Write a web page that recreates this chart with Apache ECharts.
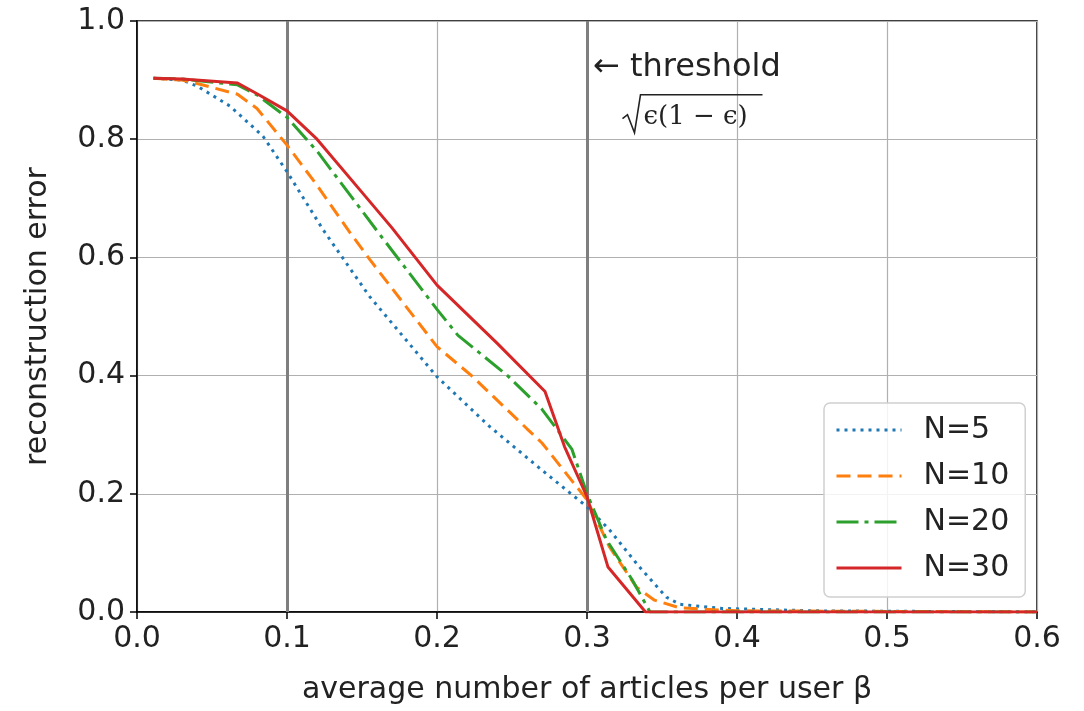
<!DOCTYPE html>
<html>
<head>
<meta charset="utf-8">
<script src="https://cdn.jsdelivr.net/npm/echarts@6/dist/echarts.min.js"></script>
<style>
html,body{margin:0;padding:0;background:#fff;}
#c{width:1084px;height:711px;}
</style>
</head>
<body>
<div id="c"></div>
<script>
// ---- data ----
const xTicks = [0.0, 0.1, 0.2, 0.3, 0.4, 0.5, 0.6];
const yTicks = [0.0, 0.2, 0.4, 0.6, 0.8, 1.0];
const seriesNames = ['N=5', 'N=10', 'N=20', 'N=30'];
const n5 = [[0.011,0.903],[0.03,0.900],[0.04,0.890],[0.062,0.856],[0.084,0.805],[0.1,0.745],[0.124,0.647],[0.155,0.534],[0.2,0.398],[0.235,0.314],[0.27,0.240],[0.3,0.178],[0.315,0.139],[0.335,0.076],[0.353,0.025],[0.362,0.013],[0.39,0.006],[0.45,0.002],[0.6,0.0]];
const n10 = [[0.011,0.903],[0.03,0.900],[0.042,0.893],[0.067,0.876],[0.08,0.852],[0.1,0.790],[0.12,0.722],[0.142,0.642],[0.155,0.597],[0.2,0.449],[0.223,0.400],[0.26,0.310],[0.27,0.286],[0.3,0.190],[0.315,0.110],[0.333,0.042],[0.345,0.020],[0.362,0.007],[0.4,0.002],[0.6,0.0]];
const n20 = [[0.011,0.903],[0.03,0.902],[0.067,0.892],[0.08,0.875],[0.1,0.837],[0.12,0.780],[0.16,0.645],[0.2,0.512],[0.214,0.468],[0.247,0.400],[0.27,0.343],[0.29,0.275],[0.3,0.200],[0.313,0.122],[0.33,0.055],[0.342,0.0],[0.6,0.0]];
const n30 = [[0.011,0.903],[0.03,0.902],[0.067,0.895],[0.08,0.877],[0.1,0.848],[0.12,0.800],[0.15,0.710],[0.17,0.650],[0.2,0.553],[0.24,0.455],[0.272,0.373],[0.285,0.280],[0.3,0.195],[0.314,0.076],[0.339,0.0],[0.4,0.0],[0.5,0.0],[0.6,0.0]];
const thresholdLines = [0.1, 0.3];
const annotation = {arrowText: '\u2190 threshold', x: 0.304, y: 0.92, mathText: '\u03f5(1 \u2212 \u03f5)', mathX: 0.325, mathY: 0.833};

const colors = ['#1f77b4', '#ff7f0e', '#2ca02c', '#d62728'];
const dashes = [[3, 5], [14, 7], [22, 6, 4, 6], 'solid'];
const datas = [n5, n10, n20, n30];
const FONT = 'DejaVu Sans';
const FS = 30;

const chart = echarts.init(document.getElementById('c'), null, {renderer: 'canvas'});

const series = datas.map((d, i) => ({
  name: seriesNames[i],
  type: 'line',
  data: d,
  showSymbol: false,
  symbol: 'none',
  z: 5 + i,
  lineStyle: {color: colors[i], width: 3, type: dashes[i]},
  itemStyle: {color: colors[i]},
  emphasis: {disabled: true},
  animation: false
}));

series.push({
  name: 'thr',
  type: 'line',
  data: [],
  markLine: {
    silent: true,
    symbol: 'none',
    label: {show: false},
    lineStyle: {color: '#7f7f7f', width: 3, type: 'solid'},
    data: thresholdLines.map(v => ({xAxis: v}))
  },
  z: 3,
  animation: false
});

const option = {
  animation: false,
  backgroundColor: '#fff',
  grid: {left: 137, right: 47, top: 21, bottom: 99, show: true, borderColor: '#000', borderWidth: 1.5, backgroundColor: 'transparent'},
  xAxis: {
    type: 'value', min: 0, max: 0.6, interval: 0.1,
    name: 'average number of articles per user \u03b2',
    nameLocation: 'middle', nameGap: 63,
    nameTextStyle: {fontFamily: FONT, fontSize: FS, color: '#222'},
    axisLine: {show: true, onZero: false, lineStyle: {color: '#000', width: 1.5}},
    axisTick: {show: true, length: 7, lineStyle: {color: '#000', width: 1.5}},
    axisLabel: {fontFamily: FONT, fontSize: FS, color: '#222', margin: 12, formatter: v => v.toFixed(1)},
    splitLine: {show: true, lineStyle: {color: '#b0b0b0', width: 1.2}}
  },
  yAxis: {
    type: 'value', min: 0, max: 1, interval: 0.2,
    name: 'reconstruction error',
    nameLocation: 'middle', nameGap: 84,
    nameTextStyle: {fontFamily: FONT, fontSize: FS, color: '#222'},
    axisLine: {show: true, onZero: false, lineStyle: {color: '#000', width: 1.5}},
    axisTick: {show: true, length: 7, lineStyle: {color: '#000', width: 1.5}},
    axisLabel: {fontFamily: FONT, fontSize: FS, color: '#222', margin: 12, formatter: v => v.toFixed(1)},
    splitLine: {show: true, lineStyle: {color: '#b0b0b0', width: 1.2}}
  },
  legend: {
    data: seriesNames,
    orient: 'vertical',
    left: 824, top: 403,
    itemWidth: 65, itemHeight: 14, itemGap: 16,
    padding: [12, 16, 14, 11],
    backgroundColor: 'rgba(255,255,255,0.85)',
    borderColor: '#d0d0d0', borderWidth: 1.5, borderRadius: 6,
    itemStyle: {opacity: 0, borderWidth: 0},
    lineStyle: {width: 3},
    textStyle: {fontFamily: FONT, fontSize: FS, color: '#222', padding: [0, 0, 0, 17]},
    selectedMode: false
  },
  series: series
};
chart.setOption(option);

// annotation text placed relative to axes
const p1 = chart.convertToPixel({gridIndex: 0}, [annotation.x, annotation.y]);
const p2 = chart.convertToPixel({gridIndex: 0}, [annotation.mathX, annotation.mathY]);
const rx = p2[0], ry = p2[1];
chart.setOption({
  graphic: [
    {type: 'text', left: p1[0], top: p1[1] - 17, z: 100,
     style: {text: annotation.arrowText, fontFamily: FONT, fontSize: 32, fill: '#222'}},
    {type: 'polyline', z: 100,
     shape: {points: [[rx - 2, ry - 1], [rx + 3, ry - 5], [rx + 10, ry + 13], [rx + 16, ry - 25], [rx + 138, ry - 25]]},
     style: {stroke: '#222', lineWidth: 1.6, fill: null}},
    {type: 'text', left: rx + 19, top: ry - 15, z: 100,
     style: {text: annotation.mathText, fontFamily: 'DejaVu Serif', fontSize: 26, fill: '#222'}}
  ]
});
</script>
</body>
</html>
